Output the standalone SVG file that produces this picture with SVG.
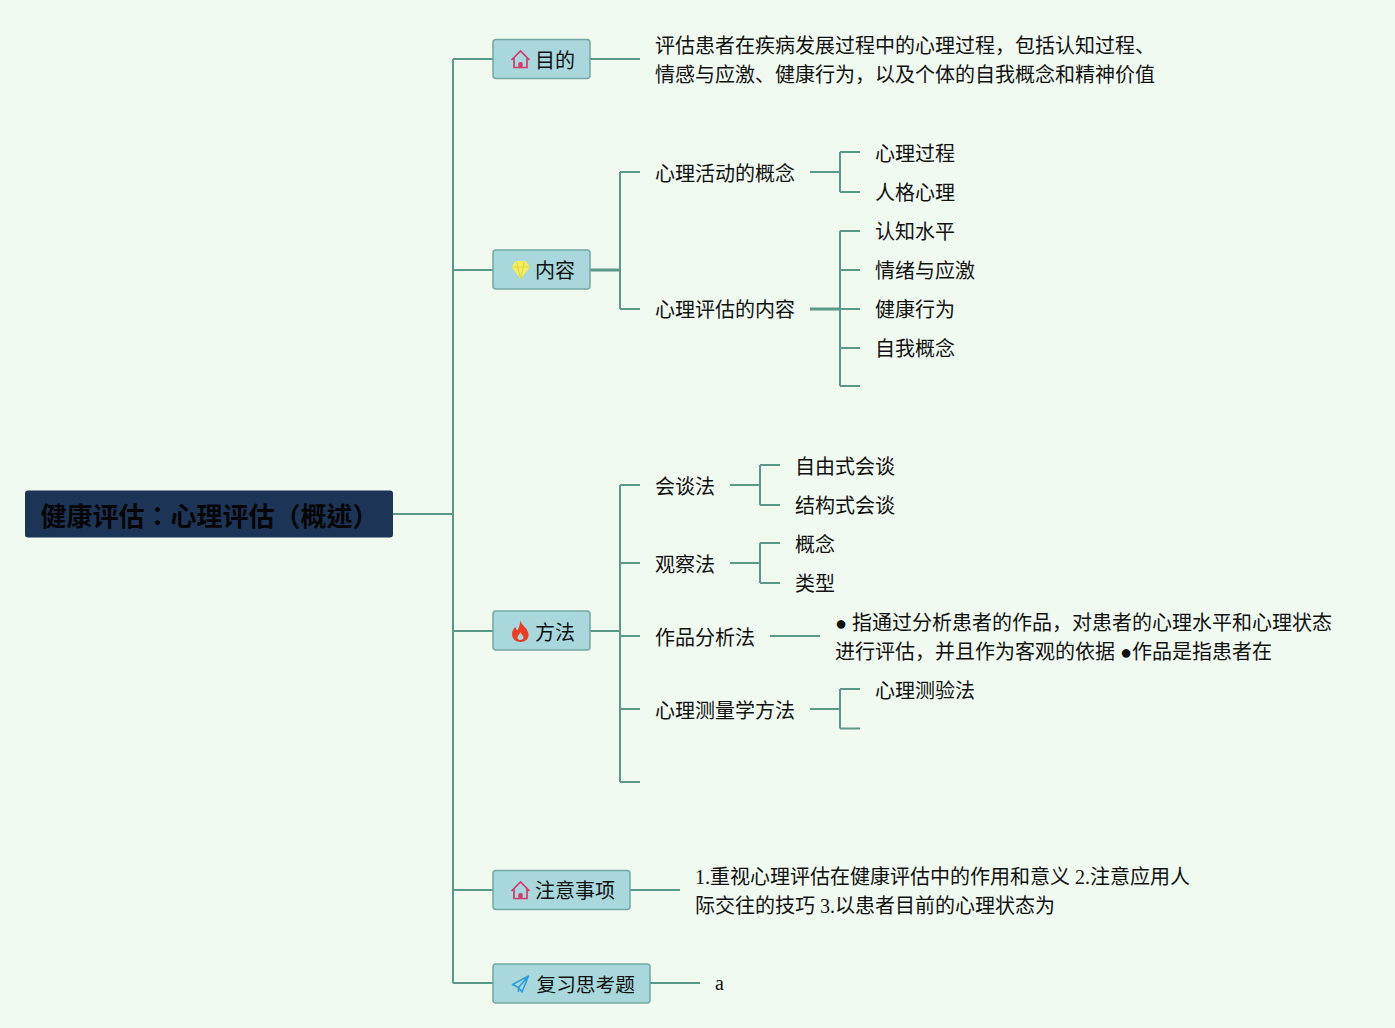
<svg xmlns="http://www.w3.org/2000/svg" width="1395" height="1028" viewBox="0 0 1395 1028">
<defs>
<style>
text{font-family:"Liberation Serif","Noto Sans CJK SC",serif;font-size:20px;fill:#111}
.c{fill:none;stroke:#5a9888;stroke-width:2}
.t{fill:none;stroke:#5a9888;stroke-width:3}
.b{fill:#a8d8dc;stroke:#72a9a3;stroke-width:1.5}
.s{font-family:"Liberation Sans","Noto Sans CJK TC",sans-serif}
</style>
<g id="home"><path d="M-9 0.500L0 -8.500L9 0.500M-6.500 -2V8H6.500V-2" fill="none" stroke="#d4396b" stroke-width="1.700"/><rect x="-2.200" y="2.500" width="4.400" height="5.500" rx="1.800" fill="#d4396b"/></g>
</defs>
<rect width="1395" height="1028" fill="#f1faf1"/>
<g id="connectors">
<path class="c" d="M393 514H453M453 59V983M453 59H493M453 270H493M453 631H493M453 890H493M453 983H493"/>
<path class="c" d="M590 59H640M630 890H680M650 983H700"/>
<path class="t" d="M590 270H620"/>
<path class="c" d="M620 172V309M620 172H640M620 309H640"/>
<path class="c" d="M810 172H840M840 152V192M840 152H860M840 192H860"/>
<path class="t" d="M810 309H840"/>
<path class="c" d="M840 309H860M840 231V386M840 231H860M840 270H860M840 348H860M840 386H860"/>
<path class="c" d="M590 631H620M620 485V782M620 485H640M620 563H640M620 636H640M620 709H640M620 782H640"/>
<path class="c" d="M730 485H760M760 465V505M760 465H780M760 505H780"/>
<path class="c" d="M730 563H760M760 543V583M760 543H780M760 583H780"/>
<path class="c" d="M770 636H820"/>
<path class="c" d="M810 709H840M840 689V728.500M840 689H860M840 728.500H860"/>
</g>
<g id="root"><rect x="25" y="490.500" width="368" height="47" rx="3" fill="#1c3557"/><text x="40.500" y="526" class="s" style="font-size:26px;font-weight:700;fill:#050505">健康评估：心理评估（概述）</text></g>
<g id="n-goal"><rect class="b" x="493" y="39.500" width="97" height="39" rx="3"/><use href="#home" x="520.500" y="59.500"/><text x="535" y="68">目的</text></g>
<g id="n-content"><rect class="b" x="493" y="250" width="97" height="39" rx="3"/><path d="M515.500 261H525.500L530 267L520.500 279L511.500 267Z" fill="#f2ec5e"/><path d="M511.500 267H530M516.500 261.500L520.500 279L524.500 261.500" fill="none" stroke="#dcd33e" stroke-width=".8"/><text x="535" y="278">内容</text></g>
<g id="n-method"><rect class="b" x="493" y="611" width="97" height="39" rx="3"/><path d="M520 620C521 625 528 628 528.500 634C529 639 525 642 520.500 642C516 642 512 639 512 634C512 631 514 628 515.500 627C516 629 516.500 630 517.500 630.500C519 627 520.500 624 520 620ZM520.500 632C519.500 634.500 517.500 635.500 517.500 637.500C517.500 639.500 519 640 520.500 640C522 640 523.500 639 523.500 637.500C523.500 635.500 521.500 634.500 520.500 632Z" fill="#ee3b22" fill-rule="evenodd"/><text x="535" y="640">方法</text></g>
<g id="n-note"><rect class="b" x="493" y="870.500" width="137" height="39" rx="3"/><use href="#home" x="520.500" y="890.500"/><text x="535" y="898">注意事项</text></g>
<g id="n-review"><rect class="b" x="493" y="964" width="157" height="39" rx="3"/><path d="M528.500 976L512.500 984.500L518.500 987.500L528.500 976L522 992L518.500 987.500V992" fill="none" stroke="#2f9fdc" stroke-width="1.600" stroke-linejoin="round"/><text x="536.500" y="991.500" style="font-size:19.700px">复习思考题</text></g>
<g id="t-goal"><text x="655" y="53">评估患者在疾病发展过程中的心理过程，包括认知过程、</text><text x="655" y="82">情感与应激、健康行为，以及个体的自我概念和精神价值</text></g>
<g id="t-a1"><text x="655" y="181">心理活动的概念</text></g>
<g id="t-a2"><text x="875" y="161">心理过程</text></g>
<g id="t-a3"><text x="875" y="200">人格心理</text></g>
<g id="t-b1"><text x="655" y="317">心理评估的内容</text></g>
<g id="t-b2"><text x="875" y="239">认知水平</text></g>
<g id="t-b3"><text x="875" y="278">情绪与应激</text></g>
<g id="t-b4"><text x="875" y="317">健康行为</text></g>
<g id="t-b5"><text x="875" y="356">自我概念</text></g>
<g id="t-c1"><text x="655" y="494">会谈法</text></g>
<g id="t-c2"><text x="795" y="474">自由式会谈</text></g>
<g id="t-c3"><text x="795" y="513">结构式会谈</text></g>
<g id="t-d1"><text x="655" y="572">观察法</text></g>
<g id="t-d2"><text x="795" y="552">概念</text></g>
<g id="t-d3"><text x="795" y="591">类型</text></g>
<g id="t-e1"><text x="655" y="645">作品分析法</text></g>
<g id="t-e2"><text x="835" y="630">● 指通过分析患者的作品，对患者的心理水平和心理状态</text><text x="835" y="659">进行评估，并且作为客观的依据 ●作品是指患者在</text></g>
<g id="t-f1"><text x="655" y="718">心理测量学方法</text></g>
<g id="t-f2"><text x="875" y="698">心理测验法</text></g>
<g id="t-note"><text x="695" y="883.500">1.重视心理评估在健康评估中的作用和意义 2.注意应用人</text><text x="695" y="912.500">际交往的技巧 3.以患者目前的心理状态为</text></g>
<g id="t-review"><text x="715" y="990">a</text></g>
</svg>
